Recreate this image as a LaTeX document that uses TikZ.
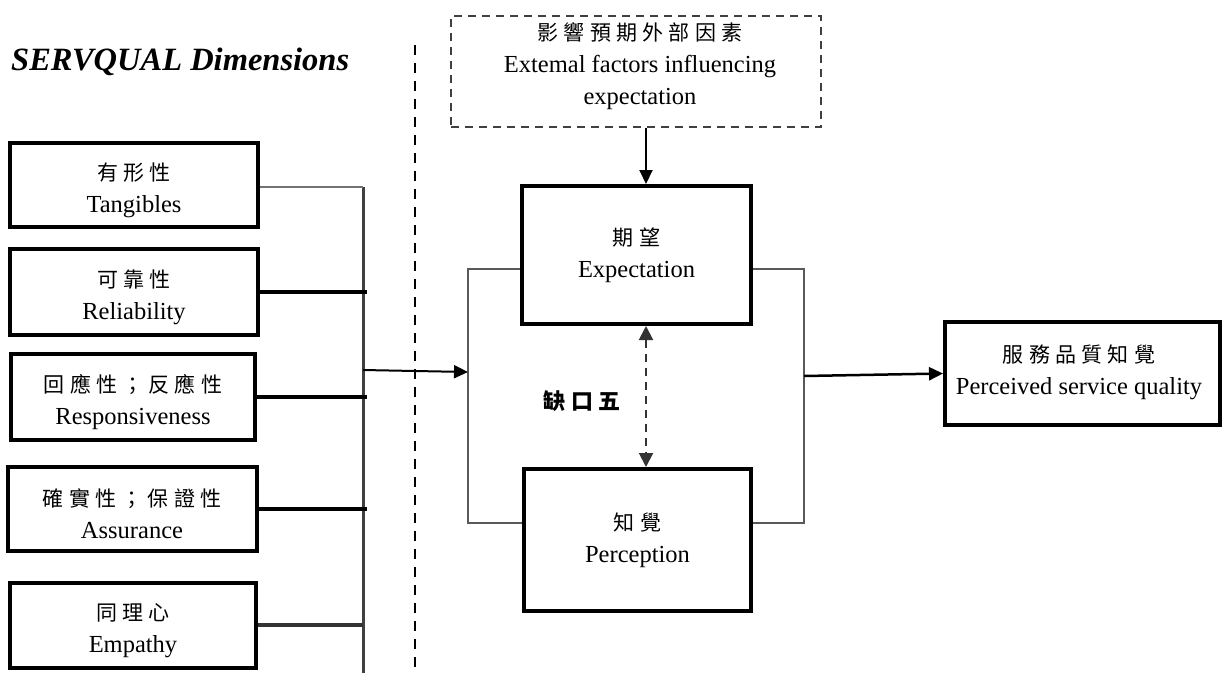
\documentclass[tikz,border=0pt]{standalone}
\usepackage{fontspec}
\setmainfont{Liberation Serif}
\newfontfamily\cjk[LetterSpace=25]{Noto Sans CJK TC}
\usetikzlibrary{arrows.meta}
\begin{document}
\begin{tikzpicture}[x=1pt,y=-1pt,
  every node/.style={font=\fontsize{24.5}{32}\selectfont, align=center, inner sep=0pt},
  dimbox/.style={draw, line width=4pt, fill=white},
  thickline/.style={line width=4pt, draw=black},
  tip/.style={-{Triangle[length=14pt,width=13pt]}}]
\useasboundingbox (0,0) rectangle (1224,673);
\newcommand{\cn}[1]{{\cjk\fontsize{21}{32}\selectfont #1}}
\newcommand{\lowstrut}{\rule{0pt}{28pt}}

% title
\node[anchor=west, font=\fontsize{32.5}{36}\selectfont\bfseries\itshape] (title) at (11,62) {SERVQUAL Dimensions};

% separator
\coordinate (sepTop) at (415,45);
\coordinate (sepBot) at (415,673);
\draw[line width=2pt, dash pattern=on 10pt off 8pt] (sepTop) -- (sepBot);

% dimension boxes
\node[dimbox, minimum width=248, minimum height=84] (tang) at (134,185) {\lowstrut\cn{有形性}\\Tangibles};
\node[dimbox, minimum width=248, minimum height=86] (reli) at (134,292) {\lowstrut\cn{可靠性}\\Reliability};
\node[dimbox, minimum width=244, minimum height=86] (resp) at (133,397) {\lowstrut\cn{回應性；反應性}\\Responsiveness};
\node[dimbox, minimum width=249, minimum height=84] (assu) at (132,509) {\lowstrut\cn{確實性；保證性}\\Assurance};
\node[dimbox, minimum width=246, minimum height=85] (empa) at (133,625) {\lowstrut\cn{同理心}\\Empathy};

% trunk
\coordinate (trunkTop) at (363,187);
\coordinate (trunkBot) at (363,673);
\coordinate (trunkOut) at (363,370);
\coordinate (stub) at (367,0);
\draw[line width=3pt, draw=black!75] (trunkTop) -- (trunkBot);
\draw[line width=2pt, draw=black!55] (tang.east |- trunkTop) -- (trunkTop);
\draw[thickline] (reli.east) -- (reli.east -| stub);
\draw[thickline] (resp.east) -- (resp.east -| stub);
\draw[thickline] (assu.east) -- (assu.east -| stub);
\draw[line width=4pt, draw=black!80] (empa.east) -- (empa.east -| trunkTop);

% expectation / perception
\node[dimbox, minimum width=229, minimum height=138] (exp) at (636.5,255) {\cn{期望}\\Expectation};
\node[dimbox, minimum width=227, minimum height=142] (per) at (637.5,540) {\cn{知覺}\\Perception};

% external factors
\node[draw, line width=2pt, dash pattern=on 8pt off 6pt, draw=black!75, minimum width=370, minimum height=111] (ext) at (636,71.5) {};
\node (extText) at (640,66) {\cn{影響預期外部因素}\\Extemal factors influencing\\expectation};

% brackets
\coordinate (lbTop) at (468,269);
\coordinate (lbBot) at (468,523);
\coordinate (lbMid) at (468,372);
\coordinate (rbTop) at (804,269);
\coordinate (rbBot) at (804,523);
\coordinate (rbOut) at (804,376);
\draw[line width=2pt, draw=black!65] (exp.west |- lbTop) -- (lbTop) -- (lbBot) -- (per.west |- lbBot);
\draw[line width=2pt, draw=black!65] (exp.east |- rbTop) -- (rbTop) -- (rbBot) -- (per.east |- rbBot);

% arrows
\draw[line width=2pt, tip] (trunkOut) -- (lbMid);
\coordinate (gx) at (646,0);
\draw[line width=2pt, tip] (ext.south -| gx) -- (exp.north -| gx);
\draw[line width=2pt, draw=black!80, dash pattern=on 8pt off 6pt,
  {Triangle[length=14pt,width=14pt]}-{Triangle[length=14pt,width=14pt]}]
  (exp.south -| gx) -- (per.north -| gx);

\node[font=\cjk\bfseries\fontsize{22}{26}\selectfont] (gap) at (582,401) {缺口五};

% output
\node[dimbox, minimum width=275, minimum height=103] (psq) at (1082.5,373.5) {};
\node (psqText) at (1079,372) {\cn{服務品質知覺}\\Perceived service quality};
\draw[line width=2.5pt, tip] (rbOut) -- (psq.west);
\end{tikzpicture}
\end{document}
